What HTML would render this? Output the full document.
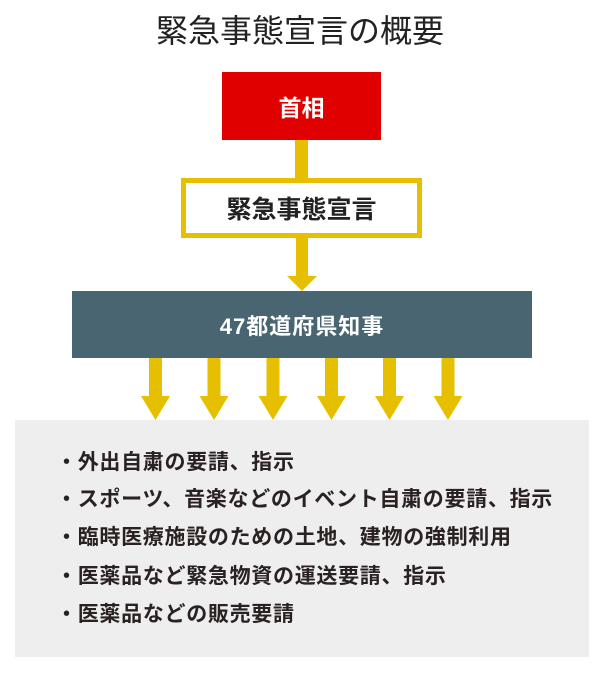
<!DOCTYPE html>
<html><head><meta charset="utf-8"><style>
body{margin:0;width:600px;height:675px;background:#fff;position:relative;overflow:hidden;font-family:"Liberation Sans","Noto Sans CJK JP",sans-serif;}
.a{position:absolute;}
.t{position:absolute;left:0;width:600px;top:6px;text-align:center;font-size:32px;color:#222;}
.red{left:222px;top:72px;width:159px;height:68px;background:#e00000;color:#fff;font-size:23px;font-weight:bold;display:flex;align-items:center;justify-content:center;}
.yel{left:181px;top:178px;width:231px;height:50px;border:5px solid #e6c000;background:#fff;color:#222;font-size:25px;font-weight:bold;display:flex;align-items:center;justify-content:center;}
.slate{left:72px;top:291px;width:460px;height:67px;background:#4a6572;color:#fff;font-size:22px;font-weight:bold;display:flex;align-items:center;justify-content:center;letter-spacing:1px;}
.gray{left:15px;top:420px;width:574px;height:237px;background:#eeeeee;}
.li{position:absolute;left:56px;font-size:21px;font-weight:bold;color:#2a2222;white-space:nowrap;letter-spacing:0.7px;line-height:1;}
</style></head><body>
<div class="t">緊急事態宣言の概要</div>
<div class="a red">首相</div>
<div class="a" style="left:295px;top:140px;width:13px;height:40px;background:#e6c000"></div>
<div class="a yel">緊急事態宣言</div>
<svg class="a" style="left:0;top:0" width="600" height="675">
<g fill="#e6c000">
<rect x="296" y="238" width="12" height="40"/><polygon points="287,276 317,276 302,291"/>
<g id="ar">
<rect x="149" y="358" width="13" height="40"/><polygon points="141,396 170,396 155.5,420"/>
</g>
<use href="#ar" x="58.5"/><use href="#ar" x="117.5"/><use href="#ar" x="176"/><use href="#ar" x="234"/><use href="#ar" x="292.5"/>
</g>
</svg>
<div class="a slate">47都道府県知事</div>
<div class="a gray"></div>
<div class="li" style="top:452px">・外出自粛の要請、指示</div>
<div class="li" style="top:489px">・スポーツ、音楽などのイベント自粛の要請、指示</div>
<div class="li" style="top:527px">・臨時医療施設のための土地、建物の強制利用</div>
<div class="li" style="top:566px">・医薬品など緊急物資の運送要請、指示</div>
<div class="li" style="top:604px">・医薬品などの販売要請</div>
</body></html>
